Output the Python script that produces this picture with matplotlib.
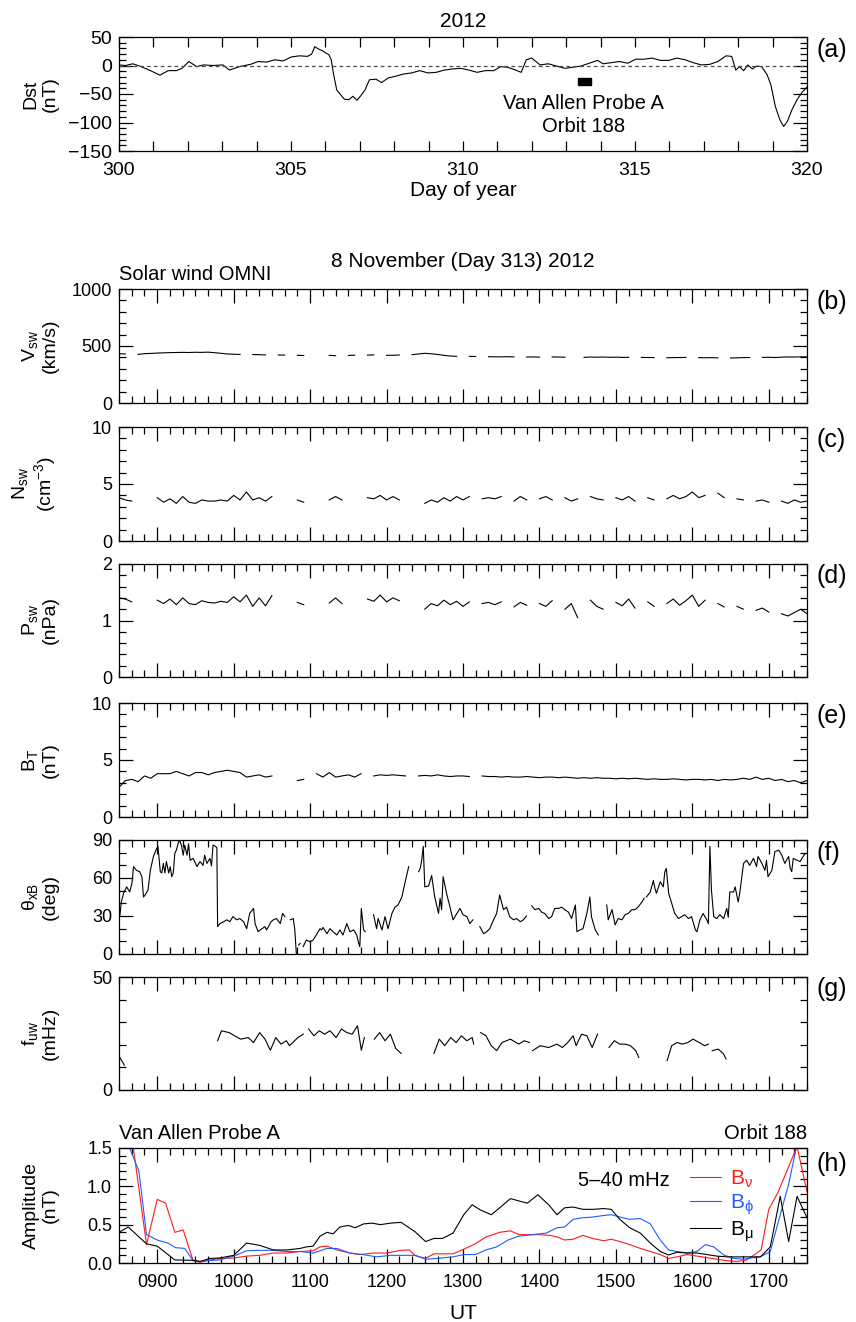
import numpy as np
import matplotlib
matplotlib.use("Agg")
import matplotlib.pyplot as plt
from matplotlib.ticker import MultipleLocator, FuncFormatter, FormatStrFormatter
from matplotlib.patches import Rectangle

plt.rcParams['font.family'] = ['Liberation Sans', 'DejaVu Sans']
plt.rcParams['mathtext.fontset'] = 'custom'
plt.rcParams['mathtext.rm'] = 'Liberation Sans'
plt.rcParams['mathtext.it'] = 'Liberation Sans'
plt.rcParams['mathtext.bf'] = 'Liberation Sans:bold'
plt.rcParams['font.size'] = 13
plt.rcParams['axes.linewidth'] = 0.9

# ---- (a) Dst, days 300-320 of 2012 ----
dst_day = [300.00, 300.19, 300.40, 300.60, 300.76, 300.95, 301.19, 301.43, 301.67, 301.83,
           302.03, 302.26, 302.46, 302.73, 303.02, 303.21, 303.50, 303.82, 304.05, 304.29,
           304.53, 304.77, 305.01, 305.25, 305.48, 305.60, 305.69, 305.80, 305.91, 306.01,
           306.10, 306.17, 306.23, 306.33, 306.44, 306.55, 306.68, 306.80, 306.92, 307.03,
           307.15, 307.28, 307.47, 307.63, 307.82, 308.03, 308.27, 308.51, 308.74, 308.98,
           309.22, 309.46, 309.70, 309.94, 310.17, 310.41, 310.65, 310.89, 311.10, 311.29,
           311.53, 311.69, 311.84, 312.00, 312.24, 312.48, 312.72, 312.96, 313.20, 313.43,
           313.67, 313.91, 314.07, 314.31, 314.55, 314.79, 315.02, 315.26, 315.50, 315.74,
           315.98, 316.22, 316.46, 316.69, 316.93, 317.17, 317.41, 317.65, 317.81, 317.93,
           318.04, 318.16, 318.28, 318.41, 318.54, 318.68, 318.84, 318.95, 319.08, 319.21,
           319.32, 319.43, 319.56, 319.71, 319.87, 320.00]
dst_nt = [1, 0, 3, -1, -5, -10, -17, -9, -9, -5,
          7, -2, 1, 0, 1, -8, -2, 2, 7, 6,
          10, 8, 15, 17, 16, 20, 33, 29, 26, 22,
          19, 10, -13, -43, -51, -59, -60, -54, -61, -53,
          -43, -25, -24, -30, -22, -19, -15, -13, -9, -13,
          -12, -8, -6, -5, -8, -12, -9, -9, -2, -3,
          -8, -12, 10, 13, 1, 3, -1, -5, -3, -1,
          4, 9, 3, 5, 7, 4, 11, 11, 13, 9,
          9, 13, 10, 5, 1, 2, 7, 17, 16, -8,
          -2, -9, 1, -6, -1, -2, -16, -34, -72, -95,
          -107, -98, -78, -60, -46, -38]
orbit_day = 313
orbit_ut = (8.5, 17.5)

# ---- (b)-(e) OMNI, 5-min samples 0830-1730 UT (None = data gap) ----
ut5 = 8.5 + np.arange(109) / 12.0

vsw = [432, 430, None, 426, 433, 435, 438, 440, 442, 443, 444, 443,        # 0830
       445, 444, 446, 441, 436, 430, 428, 426, None, 425, 424, 422,        # 0930
       None, 421, 420, None, 418, 417, None, 416, None, 418, 415, None,    # 1030
       417, 419, None, 420, 422, None, 418, 419, 421, None, 424, 430,      # 1130
       436, 432, 426, 418, 412, 410, None, 409, 408, None, 406, 405,       # 1230
       405, 406, 404, None, 403, 404, 402, None, 404, 403, 402, None,      # 1330
       None, 401, 403, 402, 403, 401, 402, 400, 401, None, 400, 399,       # 1430
       398, None, 397, 398, 399, 400, None, 398, 397, 398, 396, None,      # 1530
       395, 396, 398, 399, None, 400, 401, 399, 402, 404, 403, 405,        # 1630
       404]

nsw = [3.8, 3.6, 3.5, None, 3.2, None, 3.8, 3.4, 3.7, 3.3, 3.9, 3.4,
       3.3, 3.6, 3.5, 3.5, 3.6, 3.5, 4.0, 3.6, 4.3, 3.6, 3.8, 3.5,
       3.9, None, 3.7, None, 3.6, 3.4, None, 3.5, None, 3.6, 3.9, 3.6,
       None, 3.7, None, 3.8, 3.7, 4.0, 3.6, 3.9, 3.6, None, 3.6, None,
       3.3, 3.6, 3.4, 3.8, 3.5, 3.9, 3.6, 3.9, None, 3.7, 3.8, 3.7,
       3.9, None, 3.5, 3.9, 3.6, None, 3.7, 3.9, 3.6, None, 3.8, 3.5,
       3.7, None, 3.9, 3.7, 3.6, None, 3.8, 3.6, 3.9, 3.5, None, 3.8,
       3.6, None, 3.7, 4.0, 3.7, 3.9, 4.3, 3.8, 4.0, None, 4.2, 3.8,
       None, 3.7, 3.6, None, 3.5, 3.6, 3.4, None, 3.5, 3.3, 3.6, 3.4,
       3.5]

psw = [1.40, 1.38, 1.33, None, 1.28, None, 1.36, 1.30, 1.38, 1.28, 1.40, 1.30,
       1.28, 1.35, 1.32, 1.31, 1.34, 1.32, 1.42, 1.33, 1.45, 1.25, 1.40, 1.26,
       1.44, None, 1.35, None, 1.32, 1.28, None, 1.30, None, 1.31, 1.40, 1.30,
       None, 1.36, None, 1.38, 1.34, 1.45, 1.33, 1.40, 1.35, None, 1.34, None,
       1.20, 1.30, 1.26, 1.36, 1.28, 1.34, 1.25, 1.33, None, 1.30, 1.32, 1.28,
       1.33, None, 1.24, 1.32, 1.27, None, 1.30, 1.25, 1.35, None, 1.20, 1.30,
       1.05, None, 1.36, 1.25, 1.20, None, 1.32, 1.26, 1.38, 1.22, None, 1.33,
       1.25, None, 1.30, 1.38, 1.27, 1.35, 1.45, 1.25, 1.36, None, 1.30, 1.24,
       None, 1.25, 1.20, None, 1.18, 1.22, 1.15, None, 1.12, 1.08, 1.14, 1.20,
       1.12]

bt = [2.6, 3.2, 3.3, 3.1, 3.6, 3.4, 3.8, 3.8, 3.8, 4.0, 3.8, 3.6,
      3.9, 3.9, 3.7, 3.9, 4.0, 4.1, 4.0, 3.9, 3.5, 3.6, 3.7, 3.5,
      3.6, None, 3.3, None, 3.2, 3.3, None, 3.8, 3.5, 3.9, 3.5, 3.6,
      3.7, 3.5, 3.8, None, 3.6, 3.7, 3.65, 3.7, 3.65, 3.6, None, 3.6,
      3.65, 3.6, 3.7, 3.6, 3.55, 3.6, 3.6, 3.55, None, 3.6, 3.55, 3.55,
      3.5, 3.55, 3.5, 3.5, 3.55, 3.5, 3.45, 3.5, 3.5, 3.45, 3.5, 3.45,
      3.4, 3.45, 3.4, 3.45, 3.4, 3.4, 3.35, 3.4, 3.35, 3.4, 3.35, 3.3,
      3.35, 3.3, 3.3, 3.35, 3.3, 3.25, 3.3, 3.3, 3.25, 3.3, 3.2, 3.3,
      3.25, 3.3, 3.4, 3.3, 3.5, 3.3, 3.4, 3.2, 3.3, 3.1, 3.2, 3.0,
      3.2]

# ---- (f) cone angle ----
theta_ut = [8.51, 8.53, 8.56, 8.58, 8.60, 8.64, 8.67, 8.69, 8.73, 8.77,
            8.80, 8.82, 8.84, 8.88, 8.91, 8.95, 8.99, 9.01, 9.04, 9.06,
            9.08, 9.10, 9.12, 9.15, 9.17, 9.19, 9.21, 9.23, 9.25, 9.28,
            9.30, 9.32, 9.34, 9.36, 9.39, 9.41, 9.43, 9.47, 9.52, 9.56,
            9.60, 9.62, 9.65, 9.69, 9.71, 9.73, 9.76, 9.78, 9.79, 9.82,
            9.87, 9.91, 9.95, 9.99, 10.04, 10.08, 10.13, 10.17, 10.21, 10.26,
            10.28, 10.32, 10.37, 10.41, 10.43, 10.49, 10.52, 10.56, 10.61, 10.64,
            10.67, None, 10.74, 10.78, 10.80, 10.82, None, 10.85, 10.87, None,
            10.91, 10.95, 11.00, 11.04, 11.09, 11.13, 11.15, 11.17, 11.22, 11.26,
            11.30, 11.35, 11.39, 11.43, 11.48, 11.52, 11.57, 11.61, 11.63, 11.65,
            11.67, 11.70, 11.72, None, 11.83, 11.87, 11.89, 11.94, 11.98, 12.02,
            12.07, 12.11, 12.15, 12.20, 12.24, 12.29, None, 12.42, 12.44, 12.46,
            12.48, 12.50, 12.55, 12.59, 12.63, 12.68, 12.70, 12.72, 12.74, 12.79,
            12.83, 12.87, 12.92, 12.96, 13.00, 13.05, 13.09, 13.13, None, 13.22,
            13.27, 13.31, 13.35, 13.40, 13.44, 13.48, 13.53, 13.57, 13.61, 13.66,
            13.70, 13.75, 13.79, 13.83, None, 13.90, 13.94, 13.99, 14.03, 14.07,
            14.12, 14.16, 14.20, 14.25, 14.29, 14.33, 14.38, 14.42, 14.47, 14.49,
            14.53, 14.57, 14.62, 14.66, 14.68, 14.73, 14.77, None, 14.88, 14.90,
            14.95, 14.99, 15.03, 15.08, 15.12, 15.16, 15.21, 15.25, 15.29, 15.34,
            15.37, None, 15.40, 15.45, 15.49, 15.51, 15.53, 15.58, 15.62, 15.64,
            15.66, 15.69, 15.73, 15.77, 15.82, 15.86, 15.90, 15.95, 15.99, 16.04,
            16.06, 16.10, 16.14, 16.19, 16.21, 16.23, 16.25, 16.28, 16.32, 16.36,
            16.41, 16.45, 16.47, 16.49, 16.54, 16.56, 16.60, 16.62, 16.67, 16.71,
            16.75, 16.80, 16.84, 16.86, 16.91, 16.95, 16.97, 16.99, 17.04, 17.08,
            17.13, 17.17, 17.21, 17.26, 17.28, 17.30, 17.32, 17.37, 17.41, 17.45,
            17.47, 17.50]
theta_deg = [29.5, 41, 48, 50.5, 53, 49, 56, 69, 66, 65,
             61, 45, 46.5, 50.5, 66, 77, 83, 85, 65, 64,
             71.5, 64, 73, 64, 69, 61, 64, 79.5, 82, 88.7,
             88.7, 85, 78, 86, 78, 87, 74, 75.5, 69, 73,
             70, 78, 71.5, 75.5, 69.5, 86, 85, 84, 21.6, 24,
             25.5, 27, 25.5, 29.5, 27, 28, 25.5, 20, 32, 36,
             24, 17.6, 20, 21.6, 19, 25.5, 27, 28, 24, 32,
             29.5, None, 27, 28, 19, 0, None, 7, 8.4, None,
             5.8, 11, 9.7, 11, 16, 20, 19, 21, 16, 20,
             17.6, 15, 19, 15, 24, 17.6, 19, 15, 9.7, 5.8,
             36, 19, 17.6, None, 31, 20, 28, 19, 29.5, 20,
             32, 37, 38.7, 45, 56, 69, None, 65, 67.6, 74,
             85, 53, 53.7, 62, 45, 32, 44, 35, 61, 46.6,
             37, 27, 32, 36, 31, 29.5, 24, 27, None, 21.6,
             16, 17.6, 20, 27, 32, 46.6, 35, 37, 29.5, 27,
             28, 25.5, 27, 30, None, 38, 35, 36, 33, 32,
             28, 29.5, 36, 36, 37, 35, 33, 28, 38.7, 17.6,
             19, 20, 32, 45, 29.5, 19, 15, None, 38.7, 27,
             35, 23, 28, 27, 31, 32, 35, 35, 37, 41,
             44, None, 45, 49, 58, 52, 48, 57, 53, 65,
             67.6, 48, 40, 32, 28, 29.5, 31, 28, 29.5, 19,
             17.6, 27, 32, 27, 24, 85, 50.5, 29.5, 28, 31,
             28, 36, 29, 49, 49, 53, 41, 48, 71.5, 74,
             70, 75.5, 69, 77, 71.5, 66, 74, 61, 66, 80.8,
             82, 78, 71.5, 77, 67.6, 65, 75.5, 74, 73, 77,
             79, 79.5]

# ---- (g) upstream wave frequency ----
fuw_ut = [8.50, 8.57, None, 9.79, 9.84, 9.94, 10.09, 10.19, 10.26, 10.34,
          10.41, 10.48, 10.55, 10.62, 10.69, 10.73, 10.84, 10.91, None, 10.98,
          11.05, 11.12, 11.19, 11.26, 11.34, 11.41, 11.48, 11.55, 11.62, 11.67,
          11.71, None, 11.84, 11.91, 11.98, 12.05, 12.12, 12.19, None, 12.62,
          12.69, 12.76, 12.84, 12.91, 12.98, 13.05, 13.12, 13.14, None, 13.23,
          13.30, 13.37, 13.44, 13.51, 13.62, 13.73, 13.80, 13.87, None, 13.91,
          14.01, 14.12, 14.23, 14.30, 14.37, 14.44, 14.48, 14.55, 14.62, 14.69,
          14.76, None, 14.91, 14.98, 15.05, 15.12, 15.19, 15.26, 15.30, None,
          15.67, 15.73, 15.80, 15.87, 15.94, 16.01, 16.09, 16.16, 16.21, None,
          16.26, 16.34, 16.41, 16.44]
fuw_mhz = [15, 11, None, 21.8, 26.2, 25.4, 22.5, 23.2, 21, 25.4,
           22.5, 17.6, 23.2, 20.3, 21.8, 19.6, 23.2, 24.7, None, 27,
           24, 26.2, 24.7, 26.2, 23.2, 27, 25.4, 24.7, 28.4, 17.6,
           23.2, None, 22.5, 25.4, 21.8, 24.7, 18.4, 16.2, None, 16.2,
           22.5, 19.6, 23.2, 21, 24, 21.8, 23.2, 20.3, None, 25.4,
           24, 19.6, 17.4, 21, 22.5, 20.3, 21.8, 21, None, 17.4,
           19.6, 18.8, 20.3, 18.8, 21, 24, 19.6, 24.7, 24, 18.8,
           24.7, None, 18.8, 21.8, 20.3, 20.3, 19.6, 17.4, 14.4, None,
           13, 19.6, 21, 20.3, 21, 22.5, 21, 19.6, 20.3, None,
           17.4, 18.1, 15.9, 13.7]

# ---- (h) Van Allen Probe A, 5-40 mHz amplitudes ----
bnu_ut = [8.50, 8.62, 8.86, 9.00, 9.11, 9.23, 9.34, 9.47, 9.56, 9.69, 9.82,
          10.00, 10.17, 10.34, 10.52, 10.69, 10.87, 11.04, 11.13, 11.22, 11.35,
          11.52, 11.65, 11.83, 12.00, 12.18, 12.30, 12.37, 12.51, 12.62, 12.87,
          13.01, 13.16, 13.30, 13.48, 13.62, 13.73, 13.98, 14.14, 14.23, 14.33,
          14.44, 14.57, 14.70, 14.84, 14.94, 15.05, 15.18, 15.32, 15.45, 15.58,
          15.69, 15.80, 15.93, 16.06, 16.19, 16.32, 16.45, 16.58, 16.71, 16.80,
          16.90, 17.00, 17.12, 17.37, 17.50]
bnu_nt = [2.6, 2.0, 0.24, 0.83, 0.78, 0.40, 0.43, 0.03, 0.01, 0.04, 0.06,
          0.065, 0.09, 0.10, 0.13, 0.13, 0.15, 0.16, 0.21, 0.22, 0.17,
          0.13, 0.11, 0.13, 0.13, 0.165, 0.17, 0.10, 0.06, 0.12, 0.12,
          0.18, 0.25, 0.34, 0.40, 0.42, 0.37, 0.37, 0.36, 0.34, 0.30,
          0.31, 0.36, 0.32, 0.29, 0.31, 0.28, 0.24, 0.19, 0.15, 0.11,
          0.06, 0.08, 0.11, 0.09, 0.07, 0.05, 0.03, 0.02, 0.04, 0.10,
          0.17, 0.70, 0.92, 1.52, 0.93]

bphi_ut = [8.50, 8.62, 8.76, 8.86, 9.00, 9.14, 9.24, 9.36, 9.47, 9.56, 9.65,
           9.82, 10.00, 10.17, 10.34, 10.52, 10.69, 10.87, 11.04, 11.22, 11.35,
           11.52, 11.69, 11.87, 12.05, 12.18, 12.37, 12.51, 12.66, 12.87, 13.01,
           13.16, 13.30, 13.44, 13.59, 13.73, 13.91, 14.09, 14.23, 14.33, 14.44,
           14.57, 14.70, 14.84, 14.94, 15.05, 15.18, 15.32, 15.45, 15.58, 15.69,
           15.80, 15.93, 16.06, 16.17, 16.28, 16.41, 16.54, 16.67, 16.80, 16.89,
           17.02, 17.15, 17.26, 17.37, 17.50]
bphi_nt = [2.0, 1.55, 1.2, 0.37, 0.30, 0.26, 0.20, 0.19, 0.03, 0.02, 0.03,
           0.04, 0.09, 0.16, 0.165, 0.165, 0.15, 0.15, 0.13, 0.19, 0.19,
           0.13, 0.11, 0.08, 0.10, 0.10, 0.10, 0.05, 0.06, 0.08, 0.11,
           0.11, 0.17, 0.21, 0.30, 0.35, 0.37, 0.39, 0.46, 0.47, 0.57,
           0.59, 0.60, 0.62, 0.63, 0.60, 0.57, 0.58, 0.51, 0.30, 0.17,
           0.15, 0.13, 0.15, 0.24, 0.21, 0.105, 0.06, 0.05, 0.07, 0.08,
           0.15, 0.63, 1.03, 1.55, 1.8]

bmu_ut = [8.50, 8.62, 8.86, 9.00, 9.23, 9.47, 9.56, 9.69, 9.82, 10.00,
          10.17, 10.34, 10.52, 10.69, 10.87, 10.95, 11.04, 11.13, 11.22, 11.30,
          11.39, 11.50, 11.59, 11.70, 11.81, 11.92, 12.05, 12.19, 12.37, 12.51,
          12.62, 12.73, 12.87, 13.01, 13.12, 13.23, 13.37, 13.48, 13.62, 13.73,
          13.84, 13.98, 14.12, 14.23, 14.33, 14.44, 14.57, 14.70, 14.84, 14.94,
          15.05, 15.18, 15.32, 15.45, 15.58, 15.69, 15.80, 15.93, 16.06, 16.19,
          16.32, 16.45, 16.58, 16.71, 16.89, 17.02, 17.15, 17.26, 17.37, 17.50]
bmu_nt = [0.40, 0.47, 0.25, 0.22, 0.04, 0.035, 0.02, 0.06, 0.065, 0.10,
          0.26, 0.23, 0.17, 0.17, 0.19, 0.21, 0.22, 0.35, 0.40, 0.38,
          0.47, 0.49, 0.46, 0.51, 0.52, 0.50, 0.52, 0.53, 0.41, 0.28,
          0.32, 0.32, 0.39, 0.63, 0.76, 0.69, 0.63, 0.72, 0.84, 0.81,
          0.78, 0.89, 0.76, 0.63, 0.72, 0.73, 0.70, 0.70, 0.71, 0.70,
          0.57, 0.46, 0.39, 0.26, 0.15, 0.105, 0.14, 0.13, 0.13, 0.11,
          0.09, 0.08, 0.08, 0.08, 0.08, 0.21, 0.87, 0.28, 0.87, 0.59]


def arr(values):
    return np.array(values, dtype=float)


W, H = 856, 1322
X0, X1 = 119, 807
TXT = 14.5


def box(top, bottom):
    return [X0 / W, 1 - bottom / H, (X1 - X0) / W, (bottom - top) / H]


def style(ax, ylim, ymajor, yminor, ylabel, letter, letter_y=0.89, ticksize=13):
    ax.set_ylim(*ylim)
    ax.yaxis.set_major_locator(MultipleLocator(ymajor))
    ax.yaxis.set_minor_locator(MultipleLocator(yminor))
    ax.tick_params(which='both', direction='in', top=True, right=True, width=0.9)
    ax.tick_params(which='major', length=10, labelsize=ticksize)
    ax.tick_params(which='minor', length=5)
    ax.tick_params(axis='y', pad=5)
    ax.set_ylabel(ylabel, fontsize=14, linespacing=1.15)
    ax.yaxis.set_label_coords(-0.088, 0.5)
    ax.text(1.014, letter_y, letter, transform=ax.transAxes, fontsize=18,
            ha='left', va='center')


def hours(ax, labels=False):
    ax.set_xlim(8.5, 17.5)
    ax.xaxis.set_major_locator(MultipleLocator(1))
    ax.xaxis.set_minor_locator(MultipleLocator(1 / 6))
    if labels:
        ax.xaxis.set_major_formatter(FuncFormatter(lambda v, p: f"{int(round(v)):02d}00"))
        ax.tick_params(axis='x', pad=8)
    else:
        ax.tick_params(axis='x', labelbottom=False)


fig = plt.figure(figsize=(W / 100, H / 100), dpi=100)
lw = 0.8

# (a)
ax = fig.add_axes(box(37, 151))
ax.plot(arr(dst_day), arr(dst_nt), color='k', lw=lw)
ax.axhline(0, color='0.3', lw=0.9, ls=(0, (3, 2.5)))
ax.add_patch(Rectangle((orbit_day + orbit_ut[0] / 24, -35),
                       (orbit_ut[1] - orbit_ut[0]) / 24, 13, color='k'))
ax.text(orbit_day + 0.5, -87, 'Van Allen Probe A\nOrbit 188', ha='center', va='center',
        fontsize=TXT, linespacing=1.25)
ax.set_xlim(300, 320)
ax.xaxis.set_major_locator(MultipleLocator(1))
ax.xaxis.set_major_formatter(FuncFormatter(lambda v, p: f"{int(round(v))}" if round(v) % 5 == 0 else ""))
style(ax, (-150, 50), 50, 10, 'Dst\n(nT)', '(a)', ticksize=14)
ax.tick_params(axis='x', which='major', length=7, pad=8)
ax.text(0.5, 1.14, '2012', transform=ax.transAxes, ha='center', va='center', fontsize=15)
ax.text(0.5, -0.35, 'Day of year', transform=ax.transAxes, ha='center', va='center', fontsize=15)

# (b)
ax = fig.add_axes(box(289, 403))
ax.plot(ut5, arr(vsw), color='k', lw=lw)
hours(ax)
style(ax, (0, 1000), 500, 100, 'V$_{\\mathrm{sw}}$\n(km/s)', '(b)')
ax.text(0.5, 1.245, '8 November (Day 313) 2012', transform=ax.transAxes,
        ha='center', va='center', fontsize=15)
ax.text(0.0, 1.13, 'Solar wind OMNI', transform=ax.transAxes, ha='left', va='center', fontsize=TXT)

# (c)
ax = fig.add_axes(box(427, 541))
ax.plot(ut5, arr(nsw), color='k', lw=lw)
hours(ax)
style(ax, (0, 10), 5, 1, 'N$_{\\mathrm{sw}}$\n(cm$^{\\mathrm{-3}}$)', '(c)')

# (d)
ax = fig.add_axes(box(564, 677))
ax.plot(ut5, arr(psw), color='k', lw=lw)
hours(ax)
style(ax, (0, 2), 1, 0.2, 'P$_{\\mathrm{sw}}$\n(nPa)', '(d)')

# (e)
ax = fig.add_axes(box(703, 817))
ax.plot(ut5, arr(bt), color='k', lw=lw)
hours(ax)
style(ax, (0, 10), 5, 1, 'B$_{\\mathrm{T}}$\n(nT)', '(e)')

# (f)
ax = fig.add_axes(box(840, 954))
ax.plot(arr(theta_ut), arr(theta_deg), color='k', lw=lw)
hours(ax)
style(ax, (0, 90), 30, 10, 'θ$_{\\mathrm{xB}}$\n(deg)', '(f)')

# (g)
ax = fig.add_axes(box(977, 1090))
ax.plot(arr(fuw_ut), arr(fuw_mhz), color='k', lw=lw)
hours(ax)
style(ax, (0, 50), 50, 10, 'f$_{\\mathrm{uw}}$\n(mHz)', '(g)')

# (h)
ax = fig.add_axes(box(1148, 1263))
ax.plot(arr(bnu_ut), arr(bnu_nt), color='#ff1a1a', lw=lw, label='B$_{\\mathrm{ν}}$')
ax.plot(arr(bphi_ut), arr(bphi_nt), color='#1f5cff', lw=lw, label='B$_{\\mathrm{ϕ}}$')
ax.plot(arr(bmu_ut), arr(bmu_nt), color='k', lw=lw, label='B$_{\\mathrm{μ}}$')
hours(ax, labels=True)
style(ax, (0, 1.5), 0.5, 0.1, 'Amplitude\n(nT)', '(h)', letter_y=0.86)
ax.yaxis.set_major_formatter(FormatStrFormatter('%.1f'))
ax.legend(loc='upper left', bbox_to_anchor=(0.815, 0.91), frameon=False, fontsize=15,
          handlelength=1.5, handletextpad=0.4, labelspacing=0.12, borderpad=0,
          labelcolor='linecolor')
ax.text(0.80, 0.72, '5–40 mHz', transform=ax.transAxes, ha='right', va='center', fontsize=TXT)
ax.text(0.0, 1.13, 'Van Allen Probe A', transform=ax.transAxes, ha='left', va='center', fontsize=TXT)
ax.text(1.0, 1.13, 'Orbit 188', transform=ax.transAxes, ha='right', va='center', fontsize=TXT)
ax.text(0.5, -0.435, 'UT', transform=ax.transAxes, ha='center', va='center', fontsize=15)

fig.savefig('out.png', dpi=100)
